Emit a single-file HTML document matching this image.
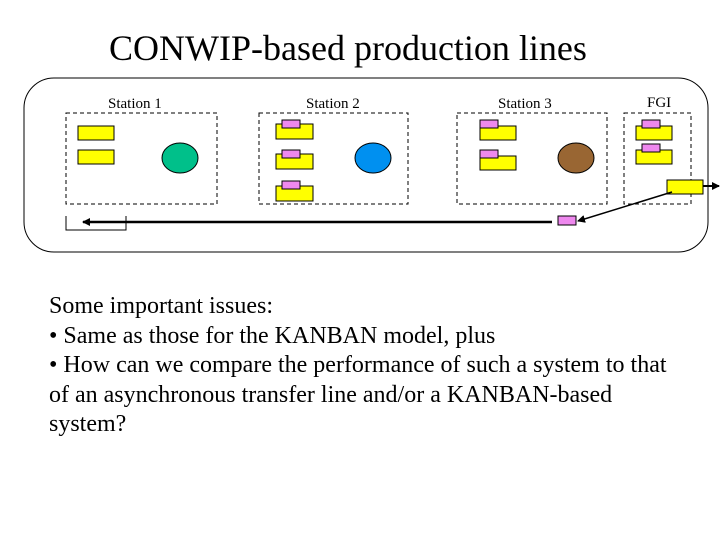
<!DOCTYPE html>
<html><head><style>
body{margin:0;background:#fff;width:720px;height:540px;overflow:hidden;position:relative;font-family:"Liberation Serif",serif}
.t{position:absolute;white-space:nowrap}
</style></head><body>
<div class="t" style="left:109px;top:27px;font-size:36px">CONWIP-based production lines</div>
<svg width="720" height="540" style="position:absolute;left:0;top:0" font-family="Liberation Serif,serif">
<defs><marker id="a" markerWidth="8" markerHeight="8" refX="7" refY="4" orient="auto" markerUnits="userSpaceOnUse"><path d="M0,0 L8,4 L0,8z" fill="#000"/></marker></defs>
<rect x="24" y="78" width="684" height="174" rx="30" fill="none" stroke="#000" stroke-width="1"/>
<g font-size="15"><text x="108" y="108">Station 1</text><text x="306" y="108">Station 2</text><text x="498" y="108">Station 3</text><text x="647" y="107">FGI</text></g>
<g fill="none" stroke="#000" stroke-dasharray="4,3"><rect x="66" y="113" width="151" height="91"/><rect x="259" y="113" width="149" height="91"/><rect x="457" y="113" width="150" height="91"/><rect x="624" y="113" width="67" height="91"/></g>
<g fill="#ffff00" stroke="#000"><rect x="78" y="126" width="36" height="14"/><rect x="78" y="150" width="36" height="14"/>
<rect x="276" y="124" width="37" height="15"/><rect x="276" y="154" width="37" height="15"/><rect x="276" y="186" width="37" height="15"/>
<rect x="480" y="126" width="36" height="14"/><rect x="480" y="156" width="36" height="14"/>
<rect x="636" y="126" width="36" height="14"/><rect x="636" y="150" width="36" height="14"/><rect x="667" y="180" width="36" height="14"/></g>
<g fill="#ee88ee" stroke="#000"><rect x="282" y="120" width="18" height="8"/><rect x="282" y="150" width="18" height="8"/><rect x="282" y="181" width="18" height="8"/>
<rect x="480" y="120" width="18" height="8"/><rect x="480" y="150" width="18" height="8"/>
<rect x="642" y="120" width="18" height="8"/><rect x="642" y="144" width="18" height="8"/><rect x="558" y="216" width="18" height="9"/></g>
<ellipse cx="180" cy="158" rx="18" ry="15" fill="#00c08a" stroke="#000"/>
<ellipse cx="373" cy="158" rx="18" ry="15" fill="#0090f0" stroke="#000"/>
<ellipse cx="576" cy="158" rx="18" ry="15" fill="#996633" stroke="#000"/>
<line x1="703" y1="186" x2="719" y2="186" stroke="#000" stroke-width="2" marker-end="url(#a)"/>
<line x1="672" y1="192" x2="578" y2="221" stroke="#000" stroke-width="1.5" marker-end="url(#a)"/>
<line x1="552" y1="222" x2="83" y2="222" stroke="#000" stroke-width="2.5" marker-end="url(#a)"/>
<path d="M66,216 V230 H126 V216" fill="none" stroke="#000"/>
</svg>
<div class="t" style="left:49px;top:292px;font-size:24px;line-height:29.5px">Some important issues:<br>• Same as those for the KANBAN model, plus<br>• How can we compare the performance of such a system to that<br>of an asynchronous transfer line and/or a KANBAN-based<br>system?</div>
</body></html>
